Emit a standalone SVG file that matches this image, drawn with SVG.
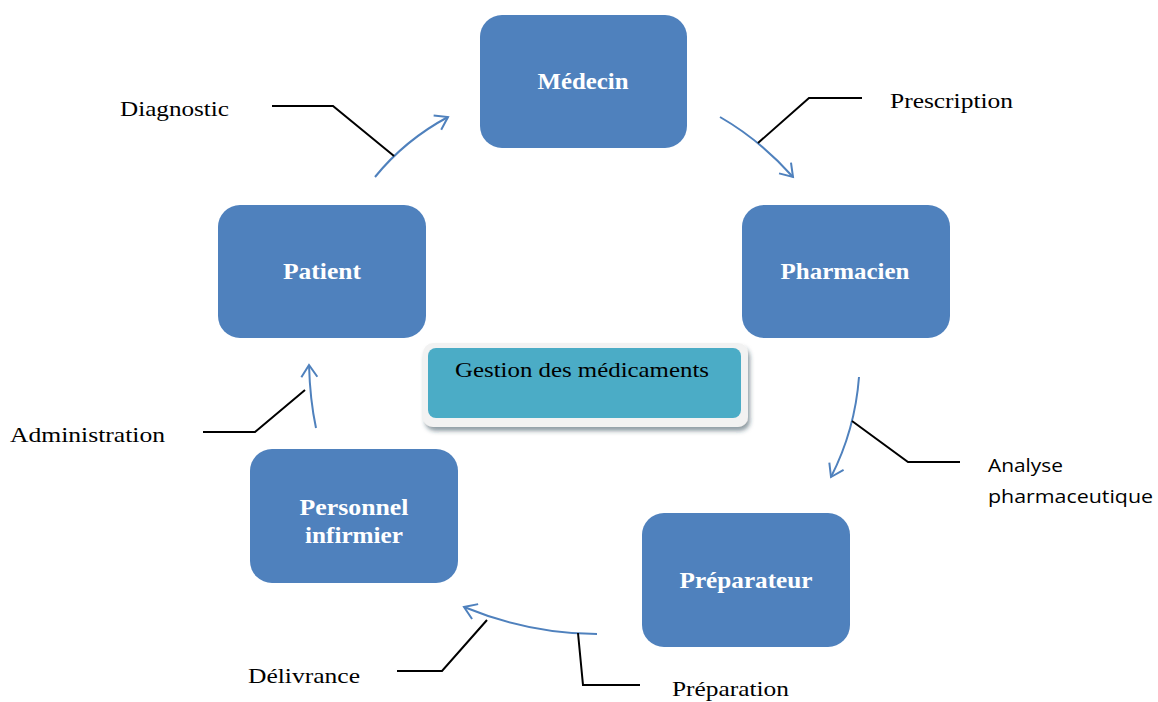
<svg xmlns="http://www.w3.org/2000/svg" width="1158" height="702" viewBox="0 0 1158 702">
<defs>
<marker id="ah" viewBox="0 0 20 20" refX="14" refY="10" markerWidth="20" markerHeight="20" markerUnits="userSpaceOnUse" orient="auto">
<path d="M2,2 L14,10 L2,18" fill="none" stroke="#4f81bd" stroke-width="2"/>
</marker>
<filter id="sh" x="-10%" y="-20%" width="120%" height="150%">
<feDropShadow dx="2" dy="4" stdDeviation="2" flood-color="#1f3e4a" flood-opacity="0.5"/>
</filter>
</defs>
<style>
.node{fill:#4f81bd}
.nl{font-family:"Liberation Serif",serif;font-weight:bold;font-size:23px;fill:#fff;text-anchor:middle}
.lb{font-family:"Liberation Serif",serif;font-size:22px;fill:#000}
.ls{font-family:"Open Sans","Liberation Sans",sans-serif;font-size:18px;fill:#000}
.arc{fill:none;stroke:#4f81bd;stroke-width:2;marker-end:url(#ah)}
.ld{fill:none;stroke:#000;stroke-width:2}
</style>
<rect width="1158" height="702" fill="#fff"/>
<g id="medecin"><rect class="node" x="480" y="15" width="207" height="133" rx="22"/><text class="nl" x="583" y="89" textLength="91" lengthAdjust="spacingAndGlyphs">Médecin</text></g>
<g id="pharmacien"><rect class="node" x="742" y="205" width="208" height="133" rx="22"/><text class="nl" x="845" y="279" textLength="129" lengthAdjust="spacingAndGlyphs">Pharmacien</text></g>
<g id="preparateur"><rect class="node" x="642" y="513" width="208" height="134" rx="22"/><text class="nl" x="746" y="588" textLength="133" lengthAdjust="spacingAndGlyphs">Préparateur</text></g>
<g id="personnel"><rect class="node" x="250" y="449" width="208" height="134" rx="22"/><text class="nl" x="354" y="515" textLength="109" lengthAdjust="spacingAndGlyphs">Personnel</text><text class="nl" x="354" y="543" textLength="98" lengthAdjust="spacingAndGlyphs">infirmier</text></g>
<g id="patient"><rect class="node" x="218" y="205" width="208" height="133" rx="22"/><text class="nl" x="322" y="279" textLength="78" lengthAdjust="spacingAndGlyphs">Patient</text></g>
<g id="gestion">
<rect x="423" y="343" width="325" height="84" rx="10" fill="#f2f2f2" filter="url(#sh)"/>
<rect x="428" y="348" width="313" height="70" rx="8" fill="#4bacc6"/>
<text x="582" y="377" text-anchor="middle" textLength="254" lengthAdjust="spacingAndGlyphs" style="font-family:'Liberation Serif',serif;font-size:22px;fill:#000">Gestion des médicaments</text>
</g>
<g id="connectors">
<path class="arc" d="M375,177 Q405,140 448,117"/>
<path class="arc" d="M720,117 Q760,140 793,177"/>
<path class="arc" d="M859,377 Q855,430 831,477"/>
<path class="arc" d="M597,634 Q530,634 464,607"/>
<path class="arc" d="M316,428 Q310,400 309,365"/>
<polyline class="ld" points="272,106 333,106 394,156"/>
<polyline class="ld" points="862,98 809,98 758,143"/>
<polyline class="ld" points="852,421 908,462 960,462"/>
<polyline class="ld" points="578,633 583,685 640,685"/>
<polyline class="ld" points="487,620 442,671 397,671"/>
<polyline class="ld" points="305,390 255,432 203,432"/>
</g>
<g id="labels">
<text class="lb" x="120" y="116" textLength="109" lengthAdjust="spacingAndGlyphs">Diagnostic</text>
<text class="lb" x="890" y="108" textLength="123" lengthAdjust="spacingAndGlyphs">Prescription</text>
<text class="ls" x="988" y="472" textLength="75" lengthAdjust="spacingAndGlyphs">Analyse</text>
<text class="ls" x="988" y="503" textLength="165" lengthAdjust="spacingAndGlyphs">pharmaceutique</text>
<text class="lb" x="672" y="696" textLength="117" lengthAdjust="spacingAndGlyphs">Préparation</text>
<text class="lb" x="248" y="683" textLength="112" lengthAdjust="spacingAndGlyphs">Délivrance</text>
<text class="lb" x="10" y="442" textLength="155" lengthAdjust="spacingAndGlyphs">Administration</text>
</g>
</svg>
